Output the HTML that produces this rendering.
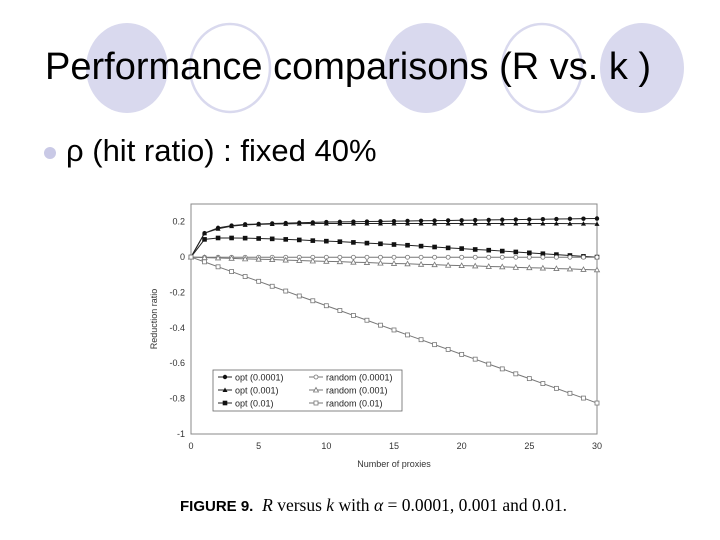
<!DOCTYPE html>
<html><head><meta charset="utf-8"><style>
body{margin:0;width:720px;height:540px;background:#fff;overflow:hidden;position:relative;font-family:"Liberation Sans",sans-serif}
.t{position:absolute;white-space:nowrap}
</style></head><body>
<svg width="720" height="540" style="position:absolute;left:0;top:0">
<ellipse cx="127" cy="68" rx="41" ry="45" fill="#d9d9ee"/>
<ellipse cx="230" cy="68" rx="40" ry="44" fill="none" stroke="#d9d9ee" stroke-width="2.5"/>
<ellipse cx="426" cy="68" rx="42" ry="45" fill="#d9d9ee"/>
<ellipse cx="542" cy="68" rx="40" ry="44" fill="none" stroke="#d9d9ee" stroke-width="2.5"/>
<ellipse cx="642" cy="68" rx="42" ry="45" fill="#d9d9ee"/>
<circle cx="50" cy="153" r="6" fill="#c9c9e6"/>
</svg>
<div class="t" style="left:45px;top:46px;font-size:38px;color:#000">Performance comparisons (R vs. k )</div>
<div class="t" style="left:66px;top:133px;font-size:31px;color:#000">ρ (hit ratio) : fixed 40%</div>
<svg id="chart" width="720" height="540" style="position:absolute;left:0;top:0"></svg>
<div class="t" style="left:180px;top:495px;font-family:'Liberation Serif',serif;font-size:17.5px"><b style="font-family:'Liberation Sans';font-size:15px">FIGURE 9.</b>&nbsp; <i>R</i> versus <i>k</i> with <i>α</i> = 0.0001, 0.001 and 0.01.</div>
<script>
const xs=[0,1,2,3,4,5,6,7,8,9,10,11,12,13,14,15,16,17,18,19,20,21,22,23,24,25,26,27,28,29,30];
const opt1=[0,.135,.165,.178,.185,.187,.19,.192,.194,.196,.198,.199,.2,.201,.202,.203,.204,.205,.206,.207,.208,.209,.21,.211,.212,.213,.214,.215,.216,.217,.218];
const opt2=[0,.135,.16,.175,.182,.185,.187,.188,.189,.19,.19,.19,.19,.19,.19,.19,.19,.19,.19,.19,.19,.19,.19,.19,.19,.19,.19,.19,.189,.189,.188];
const opt3=[0,.1,.108,.108,.107,.105,.103,.1,.097,.093,.09,.087,.083,.079,.075,.071,.067,.062,.057,.052,.048,.043,.039,.034,.029,.024,.019,.014,.009,.004,0];
const rnd1=[0,-.001,-.001,-.001,-.001,-.001,-.001,-.001,-.001,-.001,-.001,-.001,-.001,-.001,-.001,-.001,-.001,-.001,-.001,-.001,-.001,-.001,-.001,-.001,-.001,-.001,-.001,-.001,-.001,-.001,-.001];
const rnd2=[0,-.003,-.005,-.007,-.01,-.012,-.014,-.017,-.019,-.022,-.024,-.026,-.029,-.031,-.034,-.036,-.038,-.041,-.043,-.046,-.048,-.05,-.053,-.055,-.058,-.06,-.062,-.065,-.067,-.07,-.072];
const rnd3=[0,-.027,-.055,-.082,-.11,-.137,-.165,-.192,-.22,-.247,-.275,-.302,-.33,-.357,-.385,-.412,-.44,-.467,-.495,-.522,-.55,-.577,-.605,-.632,-.66,-.687,-.715,-.742,-.77,-.797,-.825];
const yTicks=[0.2,0,-0.2,-0.4,-0.6,-0.8,-1];
const yTickLabels=["0.2","0","-0.2","-0.4","-0.6","-0.8","-1"];
const xTicks=[0,5,10,15,20,25,30];
const L=191,R=597,T=204,B=434;
const X=v=>L+(v-0)/30*(R-L);
const Y=v=>B-(v+1)/1.3*(B-T);
const svg=document.getElementById('chart');const NS='http://www.w3.org/2000/svg';
function el(tag,a,parent){const e=document.createElementNS(NS,tag);for(const k in a)e.setAttribute(k,a[k]);(parent||svg).appendChild(e);return e;}
const fr=el('rect',{x:L,y:T,width:R-L,height:B-T,fill:'none',stroke:'#888','stroke-width':1});


yTicks.forEach((v,i)=>{const t=el('text',{x:L-6,y:Y(v)+3,'text-anchor':'end','font-size':9,fill:'#333','font-family':'Liberation Sans'});t.textContent=yTickLabels[i];

});
xTicks.forEach(v=>{const t=el('text',{x:X(v),y:B+15,'text-anchor':'middle','font-size':9,fill:'#333','font-family':'Liberation Sans'});t.textContent=v;

});
const xt=el('text',{x:394,y:467,'text-anchor':'middle','font-size':9,fill:'#333','font-family':'Liberation Sans'});xt.textContent='Number of proxies';


const yt=el('text',{x:0,y:0,transform:'translate(157,319) rotate(-90)','text-anchor':'middle','font-size':9,fill:'#333','font-family':'Liberation Sans'});yt.textContent='Reduction ratio';


function marker(g,type,x,y){
 if(type==='fc')el('circle',{cx:x,cy:y,r:2.2,fill:'#111'},g);
 else if(type==='oc')el('circle',{cx:x,cy:y,r:2,fill:'#fff',stroke:'#777','stroke-width':0.8},g);
 else if(type==='ft')el('path',{d:`M${x} ${y-2.5}L${x+2.5} ${y+2}L${x-2.5} ${y+2}Z`,fill:'#111'},g);
 else if(type==='ot')el('path',{d:`M${x} ${y-2.5}L${x+2.5} ${y+2}L${x-2.5} ${y+2}Z`,fill:'#fff',stroke:'#777','stroke-width':0.8},g);
 else if(type==='fs')el('rect',{x:x-2.3,y:y-2.3,width:4.6,height:4.6,fill:'#111'},g);
 else el('rect',{x:x-2,y:y-2,width:4,height:4,fill:'#fff',stroke:'#777','stroke-width':0.8},g);
}
const series=[[opt1,'fc','#222','series-opt-0.0001'],[opt2,'ft','#222','series-opt-0.001'],[opt3,'fs','#222','series-opt-0.01'],[rnd1,'oc','#777','series-random-0.0001'],[rnd2,'ot','#777','series-random-0.001'],[rnd3,'os','#777','series-random-0.01']];
series.forEach(([d,m,c,n])=>{const g=el('g',{});


el('polyline',{points:d.map((v,i)=>X(xs[i])+','+Y(v)).join(' '),fill:'none',stroke:c,'stroke-width':1},g);
d.forEach((v,i)=>marker(g,m,X(xs[i]),Y(v)));});
const lg=el('g',{});


el('rect',{x:213,y:370,width:189,height:41,fill:'#fff',stroke:'#666','stroke-width':0.8},lg);
const names=['opt (0.0001)','opt (0.001)','opt (0.01)','random (0.0001)','random (0.001)','random (0.01)'];
series.forEach((s,i)=>{const col=i<3?0:1;const r=i%3;const lx=col?309:218,ly=377+r*13;
el('line',{x1:lx,y1:ly,x2:lx+14,y2:ly,stroke:s[2],'stroke-width':1},lg);marker(lg,s[1],lx+7,ly);
const t=el('text',{x:lx+17,y:ly+3.5,'font-size':9,fill:'#222','font-family':'Liberation Sans'},lg);t.textContent=names[i];

});
</script>
</body></html>
